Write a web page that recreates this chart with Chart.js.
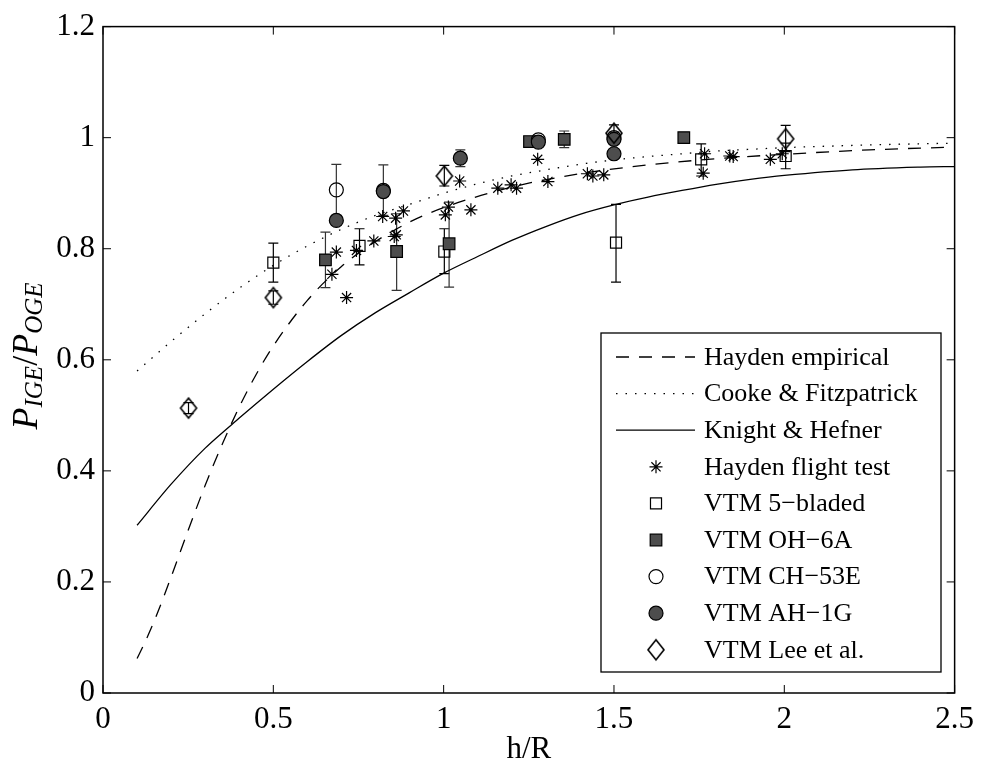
<!DOCTYPE html>
<html>
<head>
<meta charset="utf-8">
<script src="https://cdn.jsdelivr.net/npm/chart.js@4/dist/chart.umd.min.js"></script>
<style>
  html, body { margin: 0; padding: 0; background: #fff; }
  #wrap { width: 982px; height: 772px; position: relative; }
</style>
</head>
<body>
<div id="wrap"><canvas id="chart"></canvas></div>
<script>
// ── Подписи ──────────────────────────────────────────────
const seriesNames = [
  'Hayden empirical', 'Cooke & Fitzpatrick', 'Knight & Hefner',
  'Hayden flight test', 'VTM 5\u2212bladed', 'VTM OH\u22126A',
  'VTM CH\u221253E', 'VTM AH\u22121G', 'VTM Lee et al.'
];
const xTickLabels = ['0', '0.5', '1', '1.5', '2', '2.5'];
const yTickLabels = ['0', '0.2', '0.4', '0.6', '0.8', '1', '1.2'];
const xTitle = 'h/R';
const yTitleParts = ['P', 'IGE', '/', 'P', 'OGE'];

// ── Кривые ───────────────────────────────────────────────
const hEmpX = [0.1, 0.125, 0.15, 0.175, 0.2, 0.25, 0.3, 0.35, 0.4, 0.45, 0.5, 0.6, 0.7, 0.8, 0.9, 1.0, 1.2, 1.4, 1.6, 1.8, 2.0, 2.25, 2.5];
const hEmpY = [0.062, 0.094, 0.129, 0.168, 0.209, 0.293, 0.374, 0.448, 0.515, 0.574, 0.625, 0.707, 0.768, 0.813, 0.848, 0.874, 0.911, 0.935, 0.951, 0.962, 0.970, 0.978, 0.983];

const cfX = [0.1, 0.2, 0.3, 0.4, 0.5, 0.6, 0.7, 0.8, 0.9, 1.0, 1.1, 1.2, 1.3, 1.4, 1.5, 1.6, 1.7, 1.8, 1.9, 2.0, 2.2, 2.4, 2.5];
const cfY = [0.580, 0.633, 0.683, 0.729, 0.770, 0.805, 0.835, 0.860, 0.880, 0.900, 0.917, 0.931, 0.942, 0.952, 0.960, 0.966, 0.971, 0.976, 0.979, 0.982, 0.986, 0.989, 0.990];

const khX = [0.1, 0.2, 0.3, 0.4, 0.5, 0.6, 0.7, 0.8, 0.9, 1.0, 1.1, 1.2, 1.3, 1.4, 1.5, 1.6, 1.7, 1.8, 1.9, 2.0, 2.2, 2.4, 2.5];
const khY = [0.302, 0.376, 0.441, 0.495, 0.547, 0.597, 0.644, 0.685, 0.721, 0.756, 0.786, 0.815, 0.840, 0.862, 0.879, 0.893, 0.905, 0.916, 0.925, 0.932, 0.942, 0.947, 0.948];

// ── Точки ────────────────────────────────────────────────
const hftX = [0.672, 0.685, 0.715, 0.744, 0.795, 0.821, 0.855, 0.861, 0.859, 0.882, 1.005, 1.014, 1.047, 1.080, 1.159, 1.198, 1.214, 1.276, 1.306, 1.422, 1.438, 1.470, 1.762, 1.766, 1.840, 1.850, 1.959, 1.994];
const hftY = [0.754, 0.794, 0.712, 0.797, 0.814, 0.858, 0.822, 0.825, 0.855, 0.868, 0.861, 0.875, 0.922, 0.870, 0.909, 0.915, 0.909, 0.961, 0.921, 0.935, 0.931, 0.933, 0.936, 0.971, 0.967, 0.966, 0.961, 0.971];

const vtm5X  = [0.500, 0.753, 1.002, 1.506, 1.756, 2.004];
const vtm5Y  = [0.775, 0.805, 0.795, 0.811, 0.961, 0.967];
const vtm5Lo = [0.740, 0.771, 0.755, 0.740, 0.931, 0.944];
const vtm5Hi = [0.810, 0.836, 0.836, 0.880, 0.989, 0.990];

const ohX  = [0.653, 0.862, 1.016, 1.252, 1.354, 1.705];
const ohY  = [0.780, 0.795, 0.809, 0.993, 0.997, 1.000];
const ohLo = [0.730, 0.725, 0.731, 0.984, 0.982, 1.000];
const ohHi = [0.830, 0.863, 0.884, 1.002, 1.012, 1.000];

const chX  = [0.685, 0.823, 1.278, 1.500];
const chY  = [0.906, 0.905, 0.996, 1.000];
const chLo = [0.860, 0.860, 0.990, 0.990];
const chHi = [0.952, 0.951, 1.002, 1.010];

const ahX  = [0.685, 0.823, 1.049, 1.278, 1.500, 1.500];
const ahY  = [0.851, 0.903, 0.963, 0.992, 0.997, 0.971];
const ahLo = [0.851, 0.895, 0.948, 0.992, 0.990, 0.971];
const ahHi = [0.851, 0.911, 0.978, 0.992, 1.004, 0.971];

const leeX  = [0.251, 0.500, 1.002, 1.500, 2.004];
const leeY  = [0.513, 0.712, 0.931, 1.008, 0.998];
const leeLo = [0.503, 0.700, 0.913, 0.995, 0.975];
const leeHi = [0.523, 0.724, 0.950, 1.023, 1.022];

const GRAY = '#4d4d4d';
const SERIF = '"Liberation Serif", "DejaVu Serif", serif';

// ── Утилиты ──────────────────────────────────────────────
const pts = (xs, ys) => xs.map((x, i) => ({ x, y: ys[i] }));
const ptsErr = (xs, ys, lo, hi) => xs.map((x, i) => ({ x, y: ys[i], lo: lo[i], hi: hi[i] }));

// Ромб MATLAB — чуть вытянутый по вертикали
function makeDiamond() {
  const c = document.createElement('canvas');
  c.width = 20; c.height = 24;
  const g = c.getContext('2d');
  g.strokeStyle = '#000';
  g.lineWidth = 1.6;
  g.beginPath();
  g.moveTo(10, 2); g.lineTo(18, 12); g.lineTo(10, 22); g.lineTo(2, 12); g.closePath();
  g.stroke();
  return c;
}
const diamond = makeDiamond();

// ── Плагин: планки погрешностей ──────────────────────────
const errorBars = {
  id: 'errorBars',
  beforeDatasetsDraw(chart) {
    const { ctx, scales: { x, y } } = chart;
    ctx.save();
    chart.data.datasets.forEach(ds => {
      if (!ds.errBars) return;
      ctx.strokeStyle = ds.errColor || '#000';
      ctx.lineWidth = 1.2;
      ds.data.forEach(p => {
        if (p.lo === p.hi) return;
        const px = x.getPixelForValue(p.x);
        const pLo = y.getPixelForValue(p.lo);
        const pHi = y.getPixelForValue(p.hi);
        ctx.beginPath();
        ctx.moveTo(px, pLo); ctx.lineTo(px, pHi);
        ctx.moveTo(px - 5, pLo); ctx.lineTo(px + 5, pLo);
        ctx.moveTo(px - 5, pHi); ctx.lineTo(px + 5, pHi);
        ctx.stroke();
      });
    });
    ctx.restore();
  }
};

// ── Плагин: рамка, внутренние засечки, подписи осей, легенда ──
const decor = {
  id: 'decor',
  afterDraw(chart) {
    const { ctx, chartArea: a, scales: { x, y } } = chart;
    ctx.save();

    // рамка и засечки внутрь
    ctx.strokeStyle = '#000';
    ctx.lineWidth = 1.5;
    ctx.setLineDash([]);
    ctx.strokeRect(a.left, a.top, a.right - a.left, a.bottom - a.top);
    ctx.lineWidth = 1;
    ctx.beginPath();
    x.ticks.forEach(t => {
      const px = x.getPixelForValue(t.value);
      ctx.moveTo(px, a.bottom); ctx.lineTo(px, a.bottom - 8);
      ctx.moveTo(px, a.top);    ctx.lineTo(px, a.top + 8);
    });
    y.ticks.forEach(t => {
      const py = y.getPixelForValue(t.value);
      ctx.moveTo(a.left, py);  ctx.lineTo(a.left + 8, py);
      ctx.moveTo(a.right, py); ctx.lineTo(a.right - 8, py);
    });
    ctx.stroke();

    // подпись оси X
    ctx.fillStyle = '#000';
    ctx.font = `31px ${SERIF}`;
    ctx.textAlign = 'center';
    ctx.textBaseline = 'middle';
    ctx.fillText(xTitle, (a.left + a.right) / 2, 750);

    // подпись оси Y: P_IGE / P_OGE
    const big = `italic 36px ${SERIF}`;
    const small = `italic 25px ${SERIF}`;
    const slash = `36px ${SERIF}`;
    const fonts = [big, small, slash, big, small];
    const shifts = [0, 5, 0, 0, 5];
    let total = 0;
    const widths = yTitleParts.map((s, i) => {
      ctx.font = fonts[i];
      const w = ctx.measureText(s).width;
      total += w;
      return w;
    });
    ctx.translate(0, 356);
    ctx.rotate(-Math.PI / 2);
    ctx.textAlign = 'left';
    ctx.textBaseline = 'alphabetic';
    let cx = -total / 2;
    yTitleParts.forEach((s, i) => {
      ctx.font = fonts[i];
      ctx.fillText(s, cx, 37 + shifts[i]);
      cx += widths[i];
    });
    ctx.setTransform(1, 0, 0, 1, 0, 0);

    // легенда
    const box = { l: 601, t: 333, r: 941, b: 672 };
    ctx.fillStyle = '#fff';
    ctx.fillRect(box.l, box.t, box.r - box.l, box.b - box.t);
    ctx.strokeStyle = '#000';
    ctx.lineWidth = 1.3;
    ctx.strokeRect(box.l, box.t, box.r - box.l, box.b - box.t);

    ctx.font = `26px ${SERIF}`;
    ctx.textAlign = 'left';
    ctx.textBaseline = 'middle';
    chart.data.datasets.forEach((ds, i) => {
      const ry = 357 + i * 36.6;
      ctx.save();
      if (ds.showLine) {
        ctx.strokeStyle = ds.borderColor;
        ctx.lineWidth = ds.borderWidth;
        ctx.setLineDash(ds.borderDash || []);
        ctx.beginPath();
        ctx.moveTo(616, ry); ctx.lineTo(695, ry);
        ctx.stroke();
      } else {
        ctx.fillStyle = ds.backgroundColor;
        ctx.strokeStyle = ds.borderColor;
        ctx.lineWidth = ds.borderWidth;
        Chart.helpers.drawPoint(ctx, {
          pointStyle: ds.pointStyle,
          radius: ds.pointRadius,
          borderWidth: ds.borderWidth,
          rotation: 0
        }, 656, ry);
      }
      ctx.restore();
      ctx.fillStyle = '#000';
      ctx.fillText(ds.label, 704, ry + 1);
    });

    ctx.restore();
  }
};

// ── Наборы данных (в порядке легенды; order — порядок отрисовки) ──
const datasets = [
  {
    label: seriesNames[0], data: pts(hEmpX, hEmpY), showLine: true,
    borderColor: '#000', borderWidth: 1.3, borderDash: [13, 10],
    pointRadius: 0, cubicInterpolationMode: 'monotone', order: 9
  },
  {
    label: seriesNames[1], data: pts(cfX, cfY), showLine: true,
    borderColor: '#000', borderWidth: 1.3, borderDash: [1.5, 8],
    pointRadius: 0, cubicInterpolationMode: 'monotone', order: 8
  },
  {
    label: seriesNames[2], data: pts(khX, khY), showLine: true,
    borderColor: '#000', borderWidth: 1.3,
    pointRadius: 0, tension: 0.3, order: 7
  },
  {
    label: seriesNames[3], data: pts(hftX, hftY), showLine: false,
    pointStyle: 'star', pointRadius: 6.5, borderWidth: 1.2,
    borderColor: '#000', backgroundColor: '#000', order: 6
  },
  {
    label: seriesNames[4], data: ptsErr(vtm5X, vtm5Y, vtm5Lo, vtm5Hi), showLine: false,
    pointStyle: 'rect', pointRadius: 7.8, borderWidth: 1.2,
    borderColor: '#000', backgroundColor: 'rgba(0,0,0,0)',
    errBars: true, errColor: '#000', order: 5
  },
  {
    label: seriesNames[5], data: ptsErr(ohX, ohY, ohLo, ohHi), showLine: false,
    pointStyle: 'rect', pointRadius: 8.2, borderWidth: 1.2,
    borderColor: '#000', backgroundColor: GRAY,
    errBars: true, errColor: '#333', order: 4
  },
  {
    label: seriesNames[6], data: ptsErr(chX, chY, chLo, chHi), showLine: false,
    pointStyle: 'circle', pointRadius: 7, borderWidth: 1.2,
    borderColor: '#000', backgroundColor: 'rgba(0,0,0,0)',
    errBars: true, errColor: '#333', order: 3
  },
  {
    label: seriesNames[7], data: ptsErr(ahX, ahY, ahLo, ahHi), showLine: false,
    pointStyle: 'circle', pointRadius: 7, borderWidth: 1.2,
    borderColor: '#000', backgroundColor: GRAY,
    errBars: true, errColor: '#333', order: 2
  },
  {
    label: seriesNames[8], data: ptsErr(leeX, leeY, leeLo, leeHi), showLine: false,
    pointStyle: diamond, pointRadius: 10, borderWidth: 1.2,
    borderColor: '#000', backgroundColor: 'rgba(0,0,0,0)',
    errBars: true, errColor: '#000', order: 1
  }
];

new Chart(document.getElementById('chart'), {
  type: 'scatter',
  data: { datasets },
  options: {
    responsive: true,
    maintainAspectRatio: false,
    animation: false,
    events: [],
    layout: { padding: { left: 0, right: 27, top: 19, bottom: 0 } },
    plugins: {
      legend: { display: false },
      tooltip: { enabled: false }
    },
    scales: {
      x: {
        type: 'linear', min: 0, max: 2.5,
        afterFit: s => { s.height = 79; },
        ticks: {
          stepSize: 0.5, padding: 8, color: '#000',
          font: { family: SERIF, size: 31 },
          callback: (v, i) => xTickLabels[i]
        },
        grid: { display: false, drawTicks: false },
        border: { display: false }
      },
      y: {
        type: 'linear', min: 0, max: 1.2,
        afterFit: s => { s.width = 103; },
        ticks: {
          stepSize: 0.2, padding: 8, color: '#000',
          font: { family: SERIF, size: 31 },
          callback: (v, i) => yTickLabels[i]
        },
        grid: { display: false, drawTicks: false },
        border: { display: false }
      }
    }
  },
  plugins: [errorBars, decor]
});
</script>
</body>
</html>
